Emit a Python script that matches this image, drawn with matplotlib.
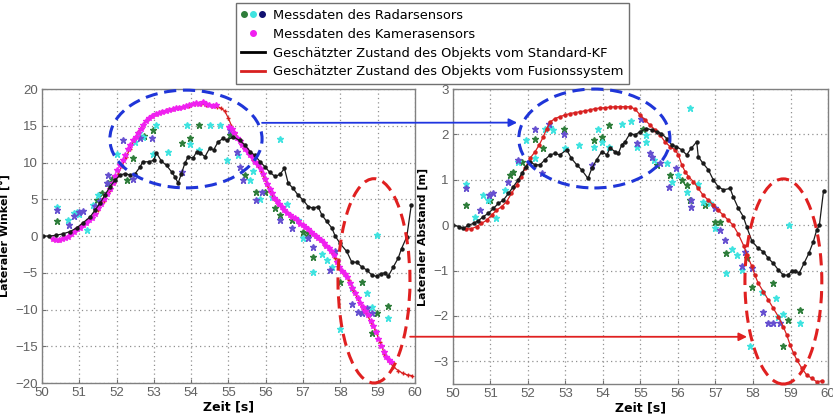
import numpy as np
import matplotlib.pyplot as plt
from matplotlib.patches import Ellipse, ConnectionPatch
from matplotlib.lines import Line2D
from matplotlib.legend_handler import HandlerTuple

# ---------------- left: Lateraler Winkel ----------------
kf_w_t = [50.03, 50.2, 50.38, 50.56, 50.75, 50.93, 51.1, 51.29, 51.42, 51.56, 51.69, 51.82,
          51.96, 52.09, 52.23, 52.36, 52.5, 52.63, 52.7, 52.86, 52.99, 53.07, 53.2, 53.34,
          53.48, 53.57, 53.65, 53.74, 53.83, 53.92, 54.05, 54.15, 54.24, 54.37, 54.5, 54.6,
          54.72, 54.86, 54.95, 55.13, 55.3, 55.44, 55.58, 55.7, 55.85, 55.98, 56.1, 56.25,
          56.38, 56.5, 56.6, 56.73, 56.86, 57.0, 57.14, 57.27, 57.4, 57.5, 57.63, 57.77,
          57.86, 57.99, 58.17, 58.3, 58.45, 58.57, 58.7, 58.84, 58.97, 59.1, 59.2, 59.28,
          59.42, 59.55, 59.64, 59.78, 59.9]
kf_w_v = [0.0, 0.0, 0.1, 0.3, 0.6, 1.1, 1.8, 2.6, 3.5, 4.5, 5.6, 6.7,
          7.6, 8.3, 8.5, 8.3, 8.5, 9.4, 10.1, 10.1, 10.3, 11.3, 10.2, 9.6,
          8.7, 8.0, 7.2, 8.5, 9.9, 10.8, 10.6, 11.5, 11.3, 10.8, 12.0, 11.7,
          12.8, 13.3, 13.0, 13.5, 13.0, 12.4, 11.5, 11.0, 10.1, 9.4, 8.7, 8.1,
          8.4, 9.2, 7.2, 6.5, 5.6, 4.9, 4.0, 3.8, 4.0, 2.9, 2.0, 1.1,
          0.0, -1.0, -2.1, -3.5, -3.6, -4.2, -4.6, -5.3, -5.5, -5.1, -5.0, -5.5,
          -4.2, -3.0, -1.7, -0.1, 4.2]

fus_w_t = [50.3, 50.45, 50.6, 50.75, 50.9, 51.05, 51.2, 51.35, 51.5, 51.65, 51.8, 51.92,
           52.03, 52.14, 52.25, 52.36, 52.47, 52.58, 52.7, 52.82, 52.94, 53.06, 53.2, 53.35,
           53.5, 53.65, 53.8, 53.95, 54.1, 54.25, 54.4, 54.55, 54.7, 54.8, 54.9, 55.0,
           55.08, 55.18, 55.3, 55.42, 55.54, 55.66, 55.78, 55.88, 55.96, 56.04, 56.12, 56.22,
           56.34, 56.48, 56.62, 56.76, 56.9, 57.04, 57.18, 57.32, 57.46, 57.6, 57.74, 57.86,
           57.97, 58.1, 58.22, 58.34, 58.46, 58.58, 58.7, 58.82, 58.94, 59.06, 59.18, 59.3,
           59.42, 59.55, 59.68, 59.8, 59.92]
fus_w_v = [-0.4, -0.5, -0.3, 0.2, 0.8, 1.3, 1.9, 2.6, 3.6, 4.8, 6.1, 7.2,
           8.3, 9.5, 10.7, 11.9, 13.1, 14.2, 15.1, 15.8, 16.3, 16.6, 16.9, 17.1,
           17.3, 17.4, 17.6, 17.7, 17.9, 18.0, 17.8, 17.7, 17.6, 17.4, 17.0, 16.0,
           15.0, 14.0, 13.0, 12.0, 11.1, 10.3, 9.5, 8.9, 7.9, 7.0, 6.0, 5.1,
           4.4, 3.7, 3.0, 2.4, 1.8, 1.2, 0.6, 0.0, -0.6, -1.3, -2.0, -3.0,
           -4.2, -5.1, -6.0, -7.3, -8.5, -9.6, -10.6, -11.7, -12.9, -14.4, -16.0, -17.0,
           -17.8, -18.3, -18.7, -18.9, -19.0]

cam_w_t = [50.30, 50.38, 50.46, 50.54, 50.62, 50.70, 50.78, 50.86, 50.94, 51.02, 51.10, 51.18,
           51.26, 51.34, 51.42, 51.50, 51.58, 51.66, 51.74, 51.82, 51.90, 51.96, 52.02, 52.09,
           52.16, 52.23, 52.30, 52.37, 52.44, 52.51, 52.58, 52.65, 52.72, 52.80, 52.88, 52.96,
           53.05, 53.14, 53.23, 53.32, 53.41, 53.50, 53.59, 53.68, 53.77, 53.86, 53.95, 54.04,
           54.13, 54.22, 54.31, 54.40, 54.49, 54.58, 54.67,
           55.02, 55.09, 55.16, 55.23, 55.30, 55.37, 55.44, 55.51, 55.58, 55.65, 55.72, 55.79,
           55.86, 55.92, 55.98, 56.04, 56.10, 56.16, 56.22, 56.29, 56.36, 56.43, 56.50, 56.57,
           56.64, 56.71, 56.78, 56.85, 56.92, 56.99, 57.06, 57.13, 57.20, 57.27, 57.34, 57.41,
           57.48, 57.55, 57.62, 57.69, 57.76, 57.83, 57.90, 57.97, 58.04, 58.11, 58.18, 58.25,
           58.32, 58.39, 58.46, 58.53, 58.60, 58.67, 58.74, 58.81, 58.88, 58.95, 59.02, 59.09,
           59.16, 59.23, 59.30, 59.35]
cam_w_v = [-0.4, -0.5, -0.5, -0.4, -0.3, -0.1, 0.3, 0.6, 0.9, 1.1, 1.5, 1.8,
           2.2, 2.5, 3.0, 3.8, 4.4, 5.1, 5.7, 6.4, 7.2, 8.1, 9.0, 9.7,
           10.4, 11.0, 11.8, 12.4, 13.0, 13.5, 14.0, 14.5, 15.1, 15.7, 16.0, 16.3,
           16.6, 16.8, 16.9, 17.0, 17.1, 17.3, 17.4, 17.4, 17.6, 17.7, 17.8, 17.9,
           18.1, 18.0, 18.2, 17.9, 17.8, 17.7, 17.8,
           14.9, 14.5, 14.0, 13.4, 12.9, 12.4, 11.9, 11.5, 11.0, 10.6, 10.1, 9.6,
           9.1, 8.4, 7.8, 7.1, 6.4, 5.8, 5.2, 4.8, 4.4, 4.0, 3.6, 3.2,
           2.9, 2.6, 2.4, 2.0, 1.7, 1.5, 1.2, 0.9, 0.6, 0.3, 0.0, -0.3,
           -0.6, -1.0, -1.3, -1.6, -2.0, -2.6, -3.5, -4.2, -4.7, -5.1, -5.6, -6.4,
           -7.1, -7.8, -8.5, -9.1, -9.6, -10.2, -10.8, -11.5, -12.3, -13.0, -14.0, -15.0,
           -15.8, -16.4, -16.9, -17.2]

rad_g_w_t = [50.39, 51.47, 51.6, 51.78, 51.88, 52.27, 52.45, 52.73, 52.98, 53.75, 53.97, 54.2,
             55.04, 55.44, 55.75, 55.98, 56.25, 56.38, 56.7, 57.0, 57.14, 57.27, 58.0, 58.57,
             58.84, 58.97, 59.28]
rad_g_w_v = [2.0, 4.9, 5.8, 7.2, 7.7, 7.6, 10.6, 13.6, 14.4, 12.6, 13.3, 15.1,
             13.7, 8.3, 6.0, 6.0, 3.8, 2.9, 2.2, 0.6, 0.4, -2.8, -6.2, -6.2,
             -13.2, -10.5, -9.5]
rad_c_w_t = [50.39, 50.7, 50.87, 50.93, 51.0, 51.2, 51.38, 51.51, 52.0, 52.5, 52.59, 52.72,
             52.98, 53.07, 53.39, 53.88, 53.97, 54.2, 54.5, 54.77, 54.95, 55.26, 55.58, 55.66,
             55.85, 56.16, 56.38, 56.56, 56.87, 57.0, 57.27, 57.5, 57.63, 57.77, 58.0, 58.3,
             58.7, 58.84, 58.97, 59.28]
rad_c_w_v = [4.0, 2.2, 3.1, 3.3, 3.0, 0.8, 4.2, 5.6, 11.2, 12.8, 14.0, 13.5,
             11.2, 15.1, 11.5, 15.1, 12.5, 11.7, 15.1, 15.1, 10.3, 11.0, 7.6, 8.8,
             5.1, 5.3, 13.2, 4.4, 2.2, -0.3, -4.9, -2.4, -3.3, -4.2, -12.6, -7.1,
             -7.7, -9.6, 0.1, -11.1]
rad_p_w_t = [50.39, 50.73, 50.87, 51.0, 51.09, 51.42, 51.56, 51.73, 51.78, 52.18, 52.45, 52.63,
             52.94, 53.75, 55.04, 55.22, 55.31, 55.4, 55.75, 55.9, 56.38, 56.7, 57.14, 57.27,
             57.72, 57.86, 58.3, 58.48, 58.57, 58.7, 58.84]
rad_p_w_v = [3.5, 1.5, 2.7, 3.3, 3.4, 4.1, 4.7, 7.2, 8.3, 13.1, 7.7, 13.4,
             13.3, 8.7, 14.4, 11.5, 9.4, 7.6, 4.9, 6.0, 2.2, 1.1, -0.3, -1.5,
             -4.6, -2.1, -9.2, -10.3, -10.5, -9.8, -10.5]

# ---------------- right: Lateraler Abstand ----------------
kf_a_t = [50.01, 50.15, 50.28, 50.41, 50.55, 50.68, 50.81, 50.94, 51.08, 51.21, 51.34, 51.48,
          51.61, 51.74, 51.83, 51.95, 52.05, 52.19, 52.32, 52.45, 52.59, 52.72, 52.85, 53.03,
          53.16, 53.3, 53.43, 53.6, 53.7, 53.83, 53.97, 54.1, 54.19, 54.32, 54.41, 54.5,
          54.59, 54.72, 54.85, 54.99, 55.16, 55.3, 55.43, 55.56, 55.7, 55.83, 55.96, 56.1,
          56.23, 56.36, 56.5, 56.54, 56.67, 56.81, 56.94, 57.07, 57.21, 57.39, 57.47, 57.61,
          57.74, 57.83, 57.97, 58.14, 58.28, 58.41, 58.54, 58.68, 58.81, 58.92, 59.03, 59.13,
          59.23, 59.36, 59.49, 59.61, 59.7, 59.77, 59.88]
kf_a_v = [0.0, -0.03, -0.07, 0.0, 0.04, 0.1, 0.19, 0.26, 0.37, 0.48, 0.55, 0.7,
          0.85, 1.0, 1.14, 1.29, 1.4, 1.33, 1.33, 1.44, 1.55, 1.58, 1.55, 1.66,
          1.47, 1.33, 1.22, 1.03, 1.25, 1.44, 1.62, 1.55, 1.7, 1.62, 1.58, 1.77,
          1.84, 2.02, 1.99, 2.06, 2.13, 2.1, 2.06, 2.02, 1.91, 1.77, 1.73, 1.66,
          1.55, 1.7, 1.84, 1.51, 1.36, 1.22, 1.0, 0.85, 0.78, 0.81, 0.63, 0.37,
          0.19, -0.03, -0.35, -0.51, -0.59, -0.73, -0.84, -0.99, -1.1, -1.1, -1.02, -1.0,
          -1.06, -0.84, -0.62, -0.36, -0.1, 0.0, 0.75]

fus_a_t = [50.36, 50.49, 50.63, 50.76, 50.9, 51.03, 51.16, 51.3, 51.43, 51.56, 51.7, 51.81,
           51.92, 52.05, 52.19, 52.3, 52.41, 52.5, 52.6, 52.72, 52.85, 52.99, 53.12, 53.25,
           53.39, 53.52, 53.65, 53.79, 53.92, 54.05, 54.19, 54.32, 54.45, 54.59, 54.72, 54.85,
           54.99, 55.12, 55.25, 55.39, 55.52, 55.65, 55.79, 55.92, 56.01, 56.1, 56.19, 56.28,
           56.41, 56.54, 56.67, 56.81, 56.94, 57.07, 57.21, 57.34, 57.47, 57.61, 57.75, 57.84,
           57.97, 58.05, 58.14, 58.28, 58.41, 58.54, 58.68, 58.81, 58.9, 58.99, 59.08, 59.17,
           59.3, 59.43, 59.56, 59.7, 59.84]
fus_a_v = [-0.08, -0.08, -0.03, 0.04, 0.11, 0.22, 0.33, 0.41, 0.52, 0.7, 0.88, 1.07,
           1.25, 1.47, 1.62, 1.77, 1.95, 2.13, 2.28, 2.35, 2.39, 2.43, 2.46, 2.48,
           2.5, 2.52, 2.54, 2.57, 2.58, 2.59, 2.6, 2.61, 2.61, 2.61, 2.61, 2.56,
           2.43, 2.32, 2.21, 2.1, 1.99, 1.84, 1.73, 1.66, 1.55, 1.33, 1.18, 1.07,
           0.96, 0.81, 0.66, 0.55, 0.44, 0.33, 0.22, 0.11, 0.0, -0.2, -0.45, -0.65,
           -0.91, -1.1, -1.28, -1.47, -1.65, -1.83, -2.02, -2.24, -2.42, -2.64, -2.82, -2.97,
           -3.15, -3.3, -3.37, -3.45, -3.43]

rad_g_a_t = [50.36, 50.99, 51.52, 51.61, 51.83, 52.19, 52.41, 52.95, 53.75, 53.97, 54.15, 55.06,
             55.43, 55.79, 56.1, 56.23, 56.32, 56.72, 56.99, 57.12, 57.27, 57.85, 57.97, 58.54,
             58.81, 58.92, 59.25]
rad_g_a_v = [0.44, 0.55, 1.1, 1.18, 1.4, 1.91, 1.7, 2.13, 1.88, 1.95, 2.21, 2.13,
             1.33, 1.1, 1.0, 0.88, 0.55, 0.44, 0.08, 0.08, -0.62, -0.73, -1.36, -1.28,
             -2.67, -2.09, -1.86]
rad_c_a_t = [50.36, 50.59, 50.81, 50.94, 51.16, 51.39, 51.74, 51.96, 52.19, 52.45, 52.59, 52.67,
             52.99, 53.35, 53.75, 53.88, 53.97, 54.15, 54.5, 54.76, 54.9, 55.16, 55.16, 55.35,
             55.7, 55.83, 56.0, 56.23, 56.32, 56.54, 56.67, 56.85, 56.99, 57.27, 57.43, 57.58,
             57.71, 57.93, 58.25, 58.62, 58.68, 58.81, 58.95, 59.25]
rad_c_a_v = [0.9, 0.19, 0.66, 0.55, 0.15, 0.77, 1.4, 1.88, 1.47, 2.13, 2.17, 2.1,
             1.7, 1.77, 1.73, 2.13, 1.84, 1.73, 2.23, 2.3, 1.73, 1.99, 1.84, 1.44,
             1.36, 0.96, 1.1, 0.74, 2.59, 0.9, 0.52, 0.48, -0.07, -1.05, -0.53, -0.66,
             -0.99, -2.66, -1.47, -1.61, -2.02, -1.95, 0.0, -2.16]
rad_p_a_t = [50.36, 50.72, 50.97, 51.08, 51.48, 51.74, 52.19, 52.37, 52.57, 52.95, 53.7, 54.9,
             55.02, 55.25, 55.3, 55.52, 55.75, 55.96, 56.36, 56.36, 56.99, 57.13, 57.25, 57.71,
             57.8, 57.97, 58.28, 58.41, 58.54, 58.72]
rad_p_a_v = [0.81, 0.33, 0.66, 0.7, 0.96, 1.44, 2.13, 1.14, 2.24, 2.02, 1.33, 1.8,
             2.35, 1.58, 1.51, 1.36, 0.85, 1.25, 0.55, 0.41, 0.37, -0.1, -0.33, -0.91,
             -0.59, -0.95, -1.91, -2.15, -2.15, -2.16]

x_ticks = list(range(50, 61))
w_ticks = [-20, -15, -10, -5, 0, 5, 10, 15, 20]
a_ticks = [-3, -2, -1, 0, 1, 2, 3]

green = '#2e7d3a'
cyan = '#3fe3e0'
purple = '#6650d0'
navy = '#101070'
magenta = '#f020f0'
red = '#d82020'

fig = plt.figure(figsize=(8.33, 4.18), dpi=100)
ax1 = fig.add_axes([0.0504, 0.0837, 0.4478, 0.7033])
ax2 = fig.add_axes([0.5438, 0.0813, 0.4502, 0.7057])


def style(ax, yt, ylim, ylabel):
    ax.set_xlim(50, 60)
    ax.set_ylim(*ylim)
    ax.set_xticks(x_ticks)
    ax.set_yticks(yt)
    ax.grid(True, linestyle=(0, (1, 2.5)), color='#909090', linewidth=0.9)
    ax.tick_params(direction='in', length=3, colors='#707070', labelsize=9.5, pad=3)
    for lab in ax.get_xticklabels() + ax.get_yticklabels():
        lab.set_family('Liberation Sans')
        lab.set_color('#606060')
    for s in ax.spines.values():
        s.set_color('#808080')
        s.set_linewidth(1.0)
    ax.set_xlabel('Zeit [s]', fontsize=9, fontweight='bold', labelpad=1)
    ax.set_ylabel(ylabel, fontsize=8, fontweight='bold', labelpad=4)
    ax.set_axisbelow(True)


def radar(ax, tg, vg, tc, vc, tp, vp):
    ax.plot(tg, vg, '*', color=green, ms=4.5, ls='none')
    ax.plot(tc, vc, '*', color=cyan, ms=4.5, ls='none')
    ax.plot(tp, vp, '*', color=purple, ms=4.5, ls='none')


# left panel
radar(ax1, rad_g_w_t, rad_g_w_v, rad_c_w_t, rad_c_w_v, rad_p_w_t, rad_p_w_v)
ax1.plot(fus_w_t, fus_w_v, '-', color=red, lw=0.9, marker='+', ms=3)
ax1.plot(cam_w_t, cam_w_v, '*', color=magenta, ms=4, ls='none')
ax1.plot(kf_w_t, kf_w_v, '-', color='#1a1a1a', lw=0.9, marker='o', ms=2.2)
style(ax1, w_ticks, (-20, 20), 'Lateraler Winkel [°]')

# right panel
radar(ax2, rad_g_a_t, rad_g_a_v, rad_c_a_t, rad_c_a_v, rad_p_a_t, rad_p_a_v)
ax2.plot(fus_a_t, fus_a_v, '-', color=red, lw=0.9, marker='o', ms=2.2)
ax2.plot(kf_a_t, kf_a_v, '-', color='#1a1a1a', lw=0.9, marker='o', ms=2.2)
style(ax2, a_ticks, (-3.5, 3), 'Lateraler Abstand [m]')

# dashed ellipses
dash = (0, (4, 2.2))
ax1.add_patch(Ellipse((53.86, 13.2), 4.08, 13.3, fill=False, ec='#1f35d8', lw=2.2,
                      ls=dash, clip_on=False, zorder=5))
ax1.add_patch(Ellipse((58.9, -6.1), 1.93, 27.8, fill=False, ec='#e02020', lw=2.2,
                      ls=dash, clip_on=False, zorder=5))
ax2.add_patch(Ellipse((53.77, 1.91), 4.03, 2.18, fill=False, ec='#1f35d8', lw=2.2,
                      ls=dash, clip_on=False, zorder=5))
ax2.add_patch(Ellipse((58.81, -1.24), 2.05, 4.52, fill=False, ec='#e02020', lw=2.2,
                      ls=dash, clip_on=False, zorder=5))

# connecting arrows
for (p1, p2, c) in [((55.9, 15.4), (51.71, 2.26), '#1f35e0'),
                    ((59.87, -13.7), (57.84, -2.46), '#e02020')]:
    con = ConnectionPatch(xyA=p1, coordsA=ax1.transData, xyB=p2, coordsB=ax2.transData,
                          arrowstyle='-|>', color=c, lw=1.3, mutation_scale=12, zorder=6)
    fig.add_artist(con)

# legend
h_radar = (Line2D([], [], marker='o', color=green, ls='none', ms=4),
           Line2D([], [], marker='o', color=cyan, ls='none', ms=4),
           Line2D([], [], marker='o', color=navy, ls='none', ms=4))
h_cam = Line2D([], [], marker='o', color=magenta, ls='none', ms=4)
h_kf = Line2D([], [], color='black', lw=2)
h_fus = Line2D([], [], color=red, lw=2)
leg = fig.legend([h_radar, h_cam, h_kf, h_fus],
                 ['Messdaten des Radarsensors', 'Messdaten des Kamerasensors',
                  'Geschätzter Zustand des Objekts vom Standard-KF',
                  'Geschätzter Zustand des Objekts vom Fusionssystem'],
                 handler_map={tuple: HandlerTuple(ndivide=None, pad=0.3)},
                 loc='upper center', bbox_to_anchor=(0.519, 0.993), fontsize=9.4,
                 frameon=True, fancybox=False, edgecolor='#707070', framealpha=1,
                 handlelength=1.8, handletextpad=0.6, labelspacing=0.45,
                 borderpad=0.45, borderaxespad=0)
leg.get_frame().set_linewidth(1.0)

fig.savefig('out.png', dpi=100, facecolor='white')
